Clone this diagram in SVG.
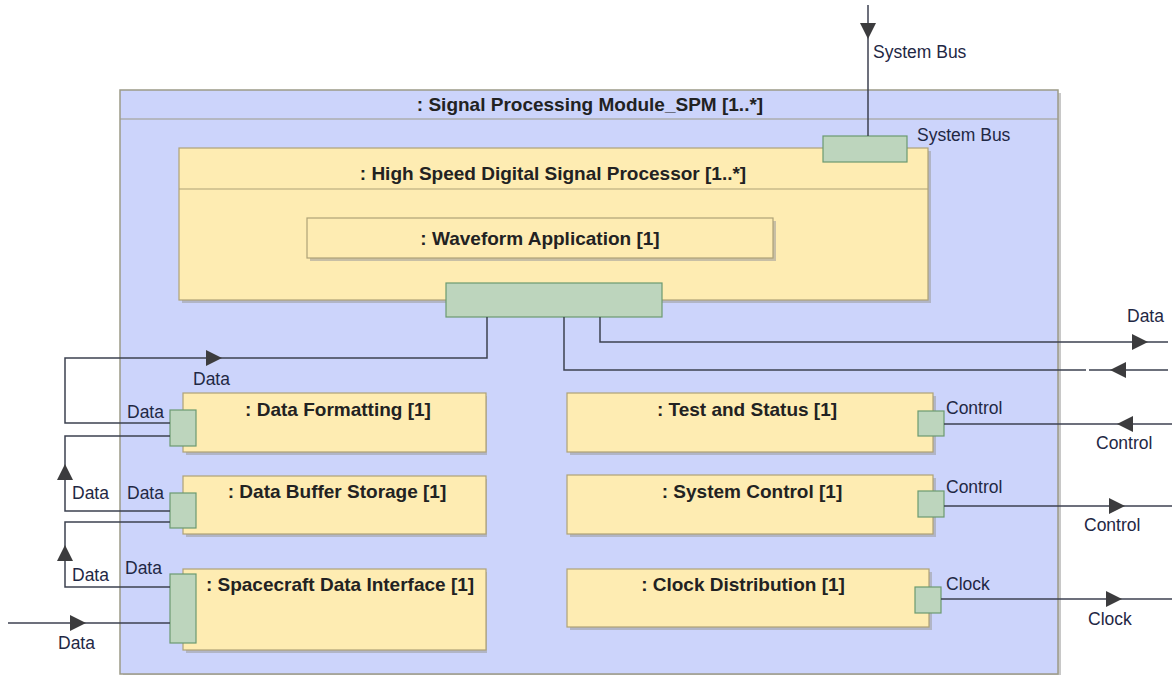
<svg xmlns="http://www.w3.org/2000/svg" width="1172" height="675" viewBox="0 0 1172 675">
<defs>
<style>
.frame{fill:#ccd4fb;stroke:#9c9a88;stroke-width:1.5}
.part{fill:#feecb2;stroke:#aea277;stroke-width:1.2}
.shadow{fill:#9a9a9a;opacity:0.55}
.port{fill:#bdd5bd;stroke:#6b9a70;stroke-width:1.2}
.sep{stroke:#9c9a88;stroke-width:1.2;fill:none}
.sepy{stroke:#aea277;stroke-width:1.2;fill:none}
.title{font-family:"Liberation Sans",Arial,sans-serif;font-weight:bold;font-size:19px;fill:#222;text-anchor:middle}
.lbl{font-family:"Liberation Sans",Arial,sans-serif;font-size:17.5px;fill:#1f2844}
.wire{fill:none;stroke:#3c4150;stroke-width:1.5}
.arr{fill:#3c3c3e}
</style>
<path id="ah" d="M0,0 L-16,-8 L-16,8 Z"/>
</defs>

<g id="spm">
<rect class="shadow" x="123" y="93" width="938" height="584"/>
<rect class="frame" x="120" y="90" width="938" height="584"/>
<line class="sep" x1="120" y1="119" x2="1058" y2="119"/>
<text class="title" x="590" y="111">: Signal Processing Module_SPM [1..*]</text>
</g>

<g id="hsdsp">
<rect class="shadow" x="182" y="151" width="749" height="152"/>
<rect class="part" x="179" y="148" width="749" height="152"/>
<line class="sepy" x1="179" y1="189" x2="928" y2="189"/>
<text class="title" x="553" y="180">: High Speed Digital Signal Processor [1..*]</text>
</g>

<g id="waveform">
<rect class="shadow" x="310" y="221" width="466" height="40"/>
<rect class="part" x="307" y="218" width="466" height="40"/>
<text class="title" x="540" y="245">: Waveform Application [1]</text>
</g>

<g id="dataformatting">
<rect class="shadow" x="186" y="396" width="301" height="59"/>
<rect class="part" x="183" y="393" width="303" height="59"/>
<text class="title" x="338" y="416">: Data Formatting [1]</text>
</g>

<g id="databuffer">
<rect class="shadow" x="186" y="479" width="301" height="58"/>
<rect class="part" x="183" y="476" width="303" height="58"/>
<text class="title" x="337" y="498">: Data Buffer Storage [1]</text>
</g>

<g id="spacecraft">
<rect class="shadow" x="186" y="572" width="301" height="81"/>
<rect class="part" x="183" y="569" width="303" height="81"/>
<text class="title" x="340" y="591">: Spacecraft Data Interface [1]</text>
</g>

<g id="teststatus">
<rect class="shadow" x="570" y="396" width="366" height="59"/>
<rect class="part" x="567" y="393" width="366" height="59"/>
<text class="title" x="747" y="416">: Test and Status [1]</text>
</g>

<g id="systemcontrol">
<rect class="shadow" x="570" y="478" width="366" height="59"/>
<rect class="part" x="567" y="475" width="366" height="59"/>
<text class="title" x="752" y="498">: System Control [1]</text>
</g>

<g id="clock">
<rect class="shadow" x="570" y="572" width="362" height="58"/>
<rect class="part" x="567" y="569" width="362" height="58"/>
<text class="title" x="743" y="591">: Clock Distribution [1]</text>
</g>

<g id="ports">
<rect class="port" x="823" y="136" width="84" height="26"/>
<rect class="port" x="446" y="283" width="216" height="34"/>
<rect class="port" x="170" y="410" width="26" height="36"/>
<rect class="port" x="170" y="493" width="26" height="35"/>
<rect class="port" x="170" y="574" width="26" height="69"/>
<rect class="port" x="918" y="411" width="26" height="25"/>
<rect class="port" x="918" y="491" width="26" height="26"/>
<rect class="port" x="915" y="587" width="26" height="26"/>
</g>

<g id="connectors">
<path class="wire" d="M868,5 V136"/>
<path class="wire" d="M487,317 V358 H65 V423 H170"/>
<path class="wire" d="M170,436 H65 V511 H170"/>
<path class="wire" d="M170,522 H65 V587 H170"/>
<path class="wire" d="M8,623 H170"/>
<path class="wire" d="M600,317 V342 H1168"/>
<path class="wire" d="M564,317 V370 H1086 M1089,370 H1168"/>
<path class="wire" d="M944,424 H1172"/>
<path class="wire" d="M944,506 H1172"/>
<path class="wire" d="M941,599 H1172"/>
<use href="#ah" class="arr" transform="translate(868,39) rotate(90)"/>
<use href="#ah" class="arr" transform="translate(1148,342)"/>
<use href="#ah" class="arr" transform="translate(1110,370) rotate(180)"/>
<use href="#ah" class="arr" transform="translate(1117,424) rotate(180)"/>
<use href="#ah" class="arr" transform="translate(1125,506)"/>
<use href="#ah" class="arr" transform="translate(1122,599)"/>
<use href="#ah" class="arr" transform="translate(222,358)"/>
<use href="#ah" class="arr" transform="translate(65,464) rotate(-90)"/>
<use href="#ah" class="arr" transform="translate(65,545) rotate(-90)"/>
<use href="#ah" class="arr" transform="translate(86,623)"/>
</g>

<g id="labels">
<text class="lbl" x="873" y="58">System Bus</text>
<text class="lbl" x="917" y="141">System Bus</text>
<text class="lbl" x="1127" y="322">Data</text>
<text class="lbl" x="946" y="414">Control</text>
<text class="lbl" x="1096" y="449">Control</text>
<text class="lbl" x="946" y="493">Control</text>
<text class="lbl" x="1084" y="531">Control</text>
<text class="lbl" x="946" y="590">Clock</text>
<text class="lbl" x="1088" y="625">Clock</text>
<text class="lbl" x="193" y="385">Data</text>
<text class="lbl" x="127" y="418">Data</text>
<text class="lbl" x="72" y="499">Data</text>
<text class="lbl" x="127" y="499">Data</text>
<text class="lbl" x="72" y="581">Data</text>
<text class="lbl" x="125" y="574">Data</text>
<text class="lbl" x="58" y="649">Data</text>
</g>
</svg>
